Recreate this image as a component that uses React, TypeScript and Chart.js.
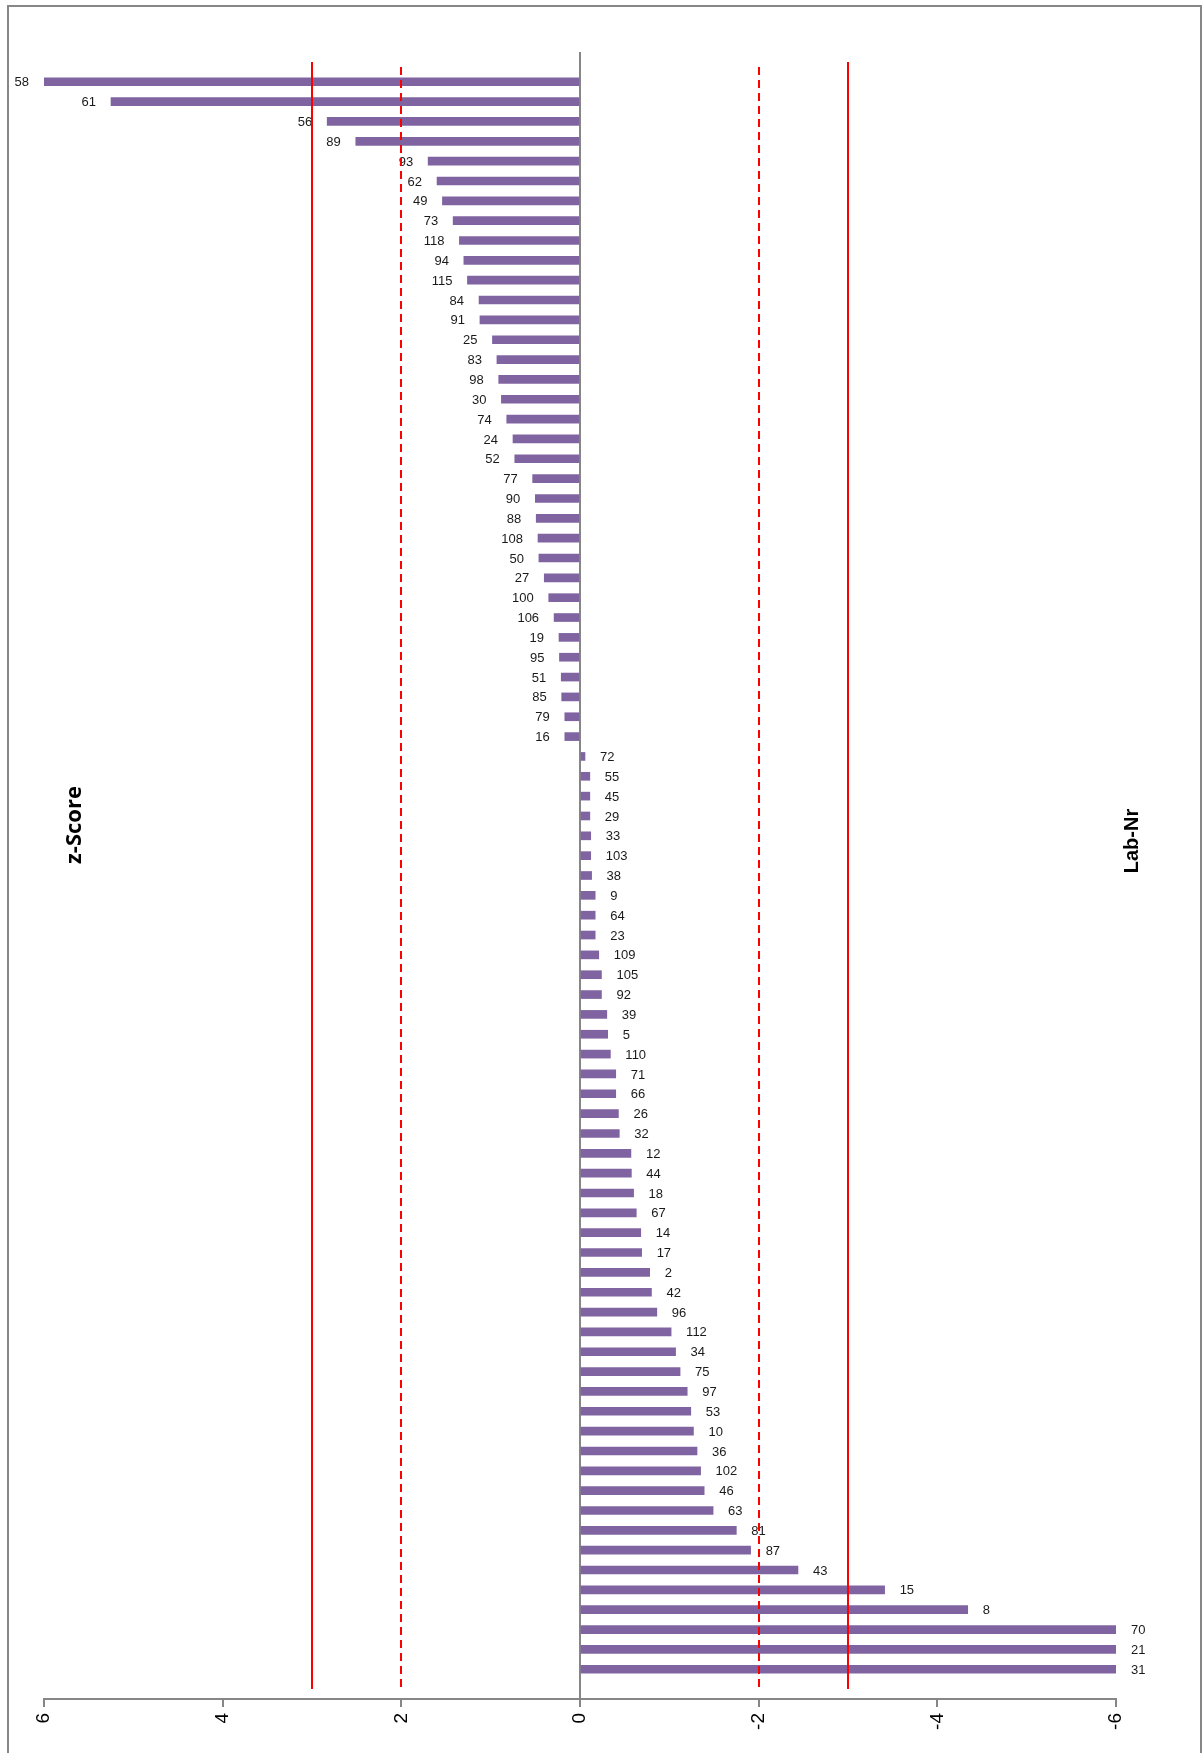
import React, { useEffect, useRef } from "react";
import { Chart, registerables } from "chart.js";

Chart.register(...registerables);

const labNumbers: string[] = [
  "58", "61", "56", "89", "93", "62", "49", "73", "118", "94", "115", "84", "91", "25", "83", "98", "30",
  "74", "24", "52", "77", "90", "88", "108", "50", "27", "100", "106", "19", "95", "51", "85", "79", "16",
  "72", "55", "45", "29", "33", "103", "38", "9", "64", "23", "109", "105", "92", "39", "5", "110", "71",
  "66", "26", "32", "12", "44", "18", "67", "14", "17", "2", "42", "96", "112", "34", "75", "97", "53",
  "10", "36", "102", "46", "63", "81", "87", "43", "15", "8", "70", "21", "31",
];

const zScores: number[] = [
  6.0, 5.25, 2.83, 2.51, 1.7, 1.6, 1.54, 1.42, 1.35, 1.3, 1.26, 1.13, 1.12, 0.98, 0.93, 0.91, 0.88,
  0.82, 0.75, 0.73, 0.53, 0.5, 0.49, 0.47, 0.46, 0.4, 0.35, 0.29, 0.235, 0.23, 0.21, 0.205, 0.17, 0.17,
  -0.056, -0.11, -0.11, -0.11, -0.12, -0.12, -0.13, -0.17, -0.17, -0.17, -0.21, -0.24, -0.24, -0.3, -0.31,
  -0.34, -0.4, -0.4, -0.43, -0.44, -0.57, -0.575, -0.6, -0.63, -0.68, -0.69, -0.78, -0.8, -0.86, -1.02,
  -1.07, -1.12, -1.2, -1.24, -1.27, -1.31, -1.35, -1.39, -1.49, -1.75, -1.91, -2.44, -3.41, -4.34, -6.0,
  -6.0, -6.0,
];

const solidLimits: number[] = [3, -3];
const dashedLimits: number[] = [2, -2];
const xTitle = "z-Score";
const yTitle = "Lab-Nr";

export default function App() {
  const ref = useRef<HTMLCanvasElement | null>(null);

  useEffect(() => {
    if (!ref.current) return;
    const n = labNumbers.length;

    const framePlugin = {
      id: "frame",
      beforeDraw(chart: any) {
        const ctx = chart.ctx;
        ctx.save();
        ctx.fillStyle = "#ffffff";
        ctx.fillRect(0, 0, chart.width, chart.height);
        ctx.strokeStyle = "#878787";
        ctx.lineWidth = 2;
        ctx.beginPath();
        ctx.moveTo(8, chart.height + 10);
        ctx.lineTo(8, 6);
        ctx.lineTo(1201, 6);
        ctx.lineTo(1201, chart.height + 10);
        ctx.stroke();
        ctx.restore();
      },
    };

    const labelPlugin = {
      id: "barLabels",
      afterDatasetsDraw(chart: any) {
        const ctx = chart.ctx;
        const meta = chart.getDatasetMeta(0);
        ctx.save();
        ctx.font = '13px "Liberation Sans", Arial, sans-serif';
        ctx.fillStyle = "#1a1a1a";
        ctx.textBaseline = "middle";
        meta.data.forEach((el: any, i: number) => {
          const v = zScores[i];
          if (v >= 0) {
            ctx.textAlign = "right";
            ctx.fillText(labNumbers[i], el.x - 15, el.y + 1);
          } else {
            ctx.textAlign = "left";
            ctx.fillText(labNumbers[i], el.x + 15, el.y + 1);
          }
        });
        ctx.restore();
      },
    };

    const limitsPlugin = {
      id: "limits",
      afterDraw(chart: any) {
        const ctx = chart.ctx;
        const xs = chart.scales.x;
        const ys = chart.scales.y;
        const y0 = ys.getPixelForValue(-1);
        const y1 = ys.getPixelForValue(n);
        ctx.save();
        ctx.strokeStyle = "#ff0000";
        ctx.lineWidth = 2;
        solidLimits.forEach((v) => {
          const x = Math.round(xs.getPixelForValue(v));
          ctx.setLineDash([]);
          ctx.beginPath();
          ctx.moveTo(x, y0);
          ctx.lineTo(x, y1);
          ctx.stroke();
        });
        dashedLimits.forEach((v) => {
          const x = Math.round(xs.getPixelForValue(v));
          ctx.setLineDash([8, 5]);
          ctx.beginPath();
          ctx.moveTo(x, y0 + 5);
          ctx.lineTo(x, y1);
          ctx.stroke();
        });
        ctx.restore();

        // axis titles
        ctx.save();
        ctx.fillStyle = "#000000";
        ctx.textAlign = "center";
        ctx.textBaseline = "middle";
        ctx.translate(75, 825);
        ctx.rotate(-Math.PI / 2);
        ctx.font = 'bold 22px "Open Sans", "Noto Sans", sans-serif';
        ctx.fillText(xTitle, 0, 0);
        ctx.restore();

        ctx.save();
        ctx.fillStyle = "#000000";
        ctx.textAlign = "center";
        ctx.textBaseline = "middle";
        ctx.translate(1132, 841);
        ctx.rotate(-Math.PI / 2);
        ctx.font = 'bold 20px "Liberation Sans", Arial, sans-serif';
        ctx.fillText(yTitle, 0, 0);
        ctx.restore();
      },
    };

    const chart = new Chart(ref.current, {
      type: "bar",
      data: {
        labels: labNumbers,
        datasets: [
          {
            label: "z-Score",
            data: zScores.map((v, i) => ({ x: v, y: i })) as any,
            backgroundColor: "#8064A2",
            borderWidth: 0,
            barThickness: 8,
          },
        ],
      },
      options: {
        indexAxis: "y",
        animation: false,
        responsive: false,
        devicePixelRatio: 1,
        layout: { padding: { left: 44, right: 87, top: 52, bottom: 0 } },
        plugins: {
          legend: { display: false },
          tooltip: { enabled: false },
          title: { display: false },
        },
        scales: {
          y: {
            type: "linear",
            reverse: true,
            offset: false,
            min: -1.5,
            max: n + 0.5,
            display: false,
            grid: { offset: false },
          },
          x: {
            type: "linear",
            reverse: true,
            min: -6,
            max: 6,
            afterFit: (scale: any) => {
              scale.height = 54;
            },
            ticks: {
              stepSize: 2,
              minRotation: 90,
              maxRotation: 90,
              padding: 6,
              color: "#000000",
              font: { family: '"Liberation Sans", Arial, sans-serif', size: 19 },
            },
            grid: {
              drawOnChartArea: true,
              color: (c: any) => (c.tick && c.tick.value === 0 ? "#868686" : "rgba(0,0,0,0)"),
              tickColor: "#868686",
              tickLength: 8,
              lineWidth: 2,
            },
            border: { color: "#868686", width: 2 },
          },
        },
      },
      plugins: [framePlugin, labelPlugin, limitsPlugin],
    });

    return () => chart.destroy();
  }, []);

  return (
    <div style={{ position: "absolute", left: 0, top: 0, width: 1203, height: 1753 }}>
      <canvas ref={ref} width={1203} height={1753} style={{ display: "block" }} />
    </div>
  );
}
